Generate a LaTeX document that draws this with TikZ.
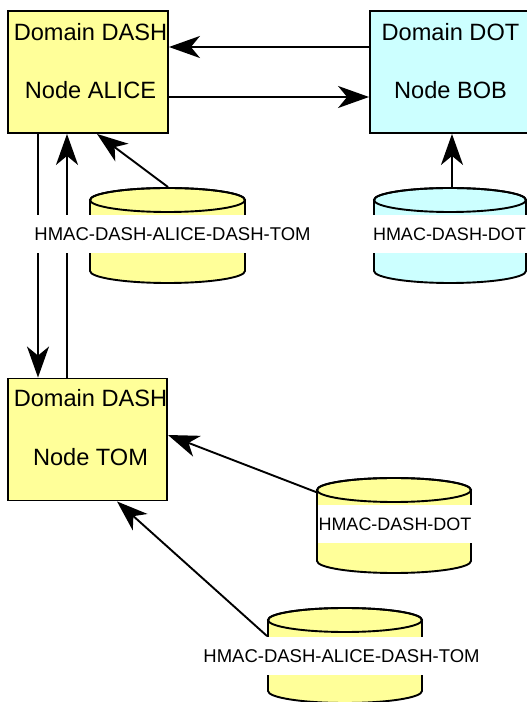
\documentclass[tikz,border=0pt]{standalone}
\usepackage{fontspec}
\setmainfont{Liberation Sans}
\usetikzlibrary{arrows.meta}
\definecolor{paleyellow}{RGB}{255,255,153}
\definecolor{palecyan}{RGB}{204,255,255}

% #1 name, #2 centre x, #3 top y, #4 bottom y, #5 half width, #6 fill
\newcommand\drum[6]{%
  \path[draw, fill=#6] (#2-#5,#3-12) -- (#2-#5,#4+12)
    arc[start angle=180, end angle=360, x radius=#5, y radius=12]
    -- (#2+#5,#3-12)
    arc[start angle=0, end angle=180, x radius=#5, y radius=12] -- cycle;
  \draw (#2,#3-12) ellipse[x radius=#5, y radius=12];
  \node[inner sep=0pt, minimum width=2*#5, minimum height=#3-#4] (#1) at (#2,{(#3+#4)/2}) {};
}

\begin{document}
\begin{tikzpicture}[x=1pt, y=1pt, line width=1.9pt,
  hostbox/.style={draw, rectangle, minimum width=160pt, minimum height=122pt, inner sep=0pt},
  hosttext/.style={anchor=base, inner sep=0pt, font=\fontsize{23.6}{28}\selectfont},
  keylabel/.style={fill=white, inner xsep=0.5pt, inner ysep=0pt, minimum height=38pt,
                   font=\fontsize{18.5}{22}\selectfont},
  shortkey/.style={keylabel, font=\fontsize{18}{22}\selectfont},
  link/.style={-{Stealth[length=31pt, width=22pt, inset=9pt]}}]
\useasboundingbox (0,0) rectangle (527,702);

% hosts
\node[hostbox, fill=paleyellow] (alice) at (88,630) {};
\node[hostbox, fill=palecyan] (bob) at (450,630) {};
\node[hostbox, fill=paleyellow, minimum width=159pt] (tom) at (87.5,262.5) {};

\node[hosttext] (alice-dom) at ([xshift=2.5pt, yshift=-30.5pt]alice.north) {Domain DASH};
\node[hosttext] (alice-name) at ([xshift=2.5pt, yshift=-88.3pt]alice.north) {Node ALICE};
\node[hosttext] (bob-dom) at ([xshift=0.5pt, yshift=-30.5pt]bob.north) {Domain DOT};
\node[hosttext] (bob-name) at ([xshift=0.5pt, yshift=-88.3pt]bob.north) {Node BOB};
\node[hosttext] (tom-dom) at ([xshift=3pt, yshift=-28.5pt]tom.north) {Domain DASH};
\node[hosttext] (tom-name) at ([xshift=3pt, yshift=-88pt]tom.north) {Node TOM};

% key stores
\drum{c1}{167.5}{514}{419}{77.5}{paleyellow}
\drum{c2}{450}{514}{419}{76}{palecyan}
\drum{c3}{394}{224}{129}{77}{paleyellow}
\drum{c4}{345}{94}{-1}{77}{paleyellow}

% links between hosts
\draw[link] ([yshift=25pt]bob.west) -- ([yshift=25pt]alice.east);
\draw[link] ([yshift=-25pt]alice.east) -- ([yshift=-25pt]bob.west);
\draw[link] ([xshift=-50pt]alice.south) -- ([xshift=-49.5pt]tom.north);
\draw[link] ([xshift=-20.5pt]tom.north) -- ([xshift=-21pt]alice.south);

% keys to hosts
\draw[link] ([xshift=0.5pt]c1.north) -- ([xshift=9pt]alice.south);
\draw[link] ([xshift=2pt]c2.north) -- ([xshift=2pt]bob.south);
\draw[link] ([yshift=-15pt]c3.north west) -- ([yshift=4.5pt]tom.east);
\draw[link] ([yshift=-29pt]c4.north west) -- ([xshift=29.5pt]tom.south);

% key names
\node[keylabel] (k1) at ([xshift=5pt, yshift=1.5pt]c1.center) {HMAC-DASH-ALICE-DASH-TOM};
\node[shortkey] (k2) at ([xshift=-0.5pt, yshift=1.5pt]c2.center) {HMAC-DASH-DOT};
\node[shortkey] (k3) at ([xshift=1pt, yshift=1.5pt]c3.center) {HMAC-DASH-DOT};
\node[keylabel] (k4) at ([xshift=-3.5pt, yshift=-0.5pt]c4.center) {HMAC-DASH-ALICE-DASH-TOM};
\end{tikzpicture}
\end{document}
